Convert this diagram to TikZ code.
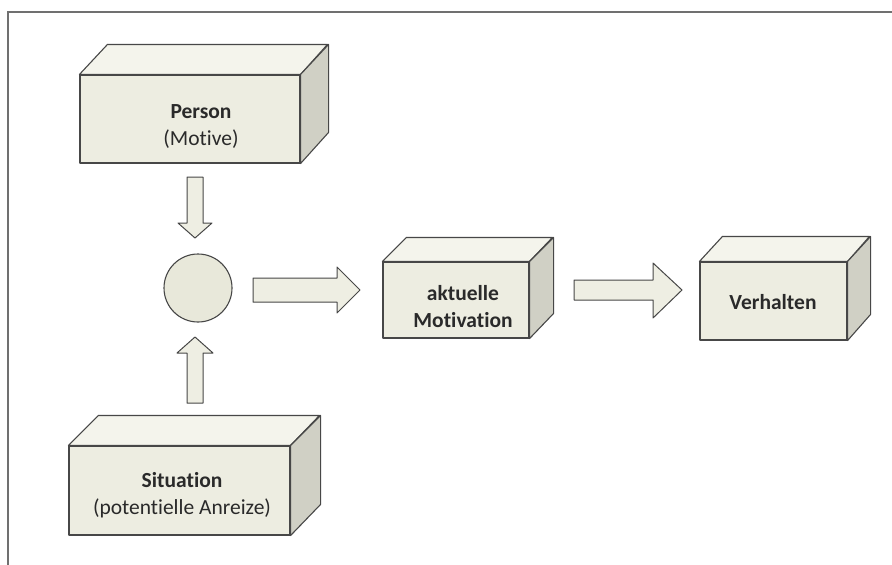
\documentclass[tikz,border=0pt]{standalone}
\usepackage{fontspec}
\setmainfont[Ligatures=NoCommon]{Carlito}
\definecolor{edgec}{HTML}{474747}
\definecolor{frontc}{HTML}{EDEDE1}
\definecolor{topc}{HTML}{F4F4EC}
\definecolor{sidec}{HTML}{D0D0C5}
\definecolor{circc}{HTML}{E8E8DA}
\definecolor{arrc}{HTML}{EEEEE3}
\definecolor{txtc}{HTML}{2A2A2A}
\definecolor{framec}{HTML}{707070}
\newcommand\mycuboid[7]{%
  \node[front, minimum width=#4pt, minimum height=#5pt] (#1) at (#2,#3) {};
  \filldraw[edge, fill=topc] (#1.north west) -- ++(#6,-#7) -- ++(#4,0) -- (#1.north east) -- cycle;
  \filldraw[edge, fill=sidec] (#1.north east) -- ++(#6,-#7) -- ++(0,#5) -- (#1.south east) -- cycle;
}
\begin{document}
\begin{tikzpicture}[x=1pt,y=-1pt,
  edge/.style={draw=edgec, line width=1.1pt, line join=round},
  front/.style={edge, fill=frontc, rectangle, inner sep=0pt},
  blockarrow/.style={edge, fill=arrc, line width=1pt},
  lbl/.style={font=\fontsize{21.5}{27}\selectfont, text=txtc, align=center, inner sep=0pt},
]
\useasboundingbox (0,0) rectangle (892,565);
\fill[white] (0,0) rectangle (892,565);
\draw[framec, line width=1.5pt] (8,565) -- (8,12) -- (892,12);

\mycuboid{person}{190}{119}{220}{88}{28}{30}
\mycuboid{situation}{179.5}{490.5}{221}{89}{30}{30}
\mycuboid{motivation}{456}{300}{146}{76}{24}{24}
\mycuboid{verhalten}{773.5}{301}{147}{78}{23}{25}

\node[lbl] (personlbl) at (201,126.5) {\textbf{Person}\\(Motive)};
\node[lbl] (situationlbl) at (182,495) {\textbf{Situation}\\(potentielle Anreize)};
\node[lbl] (motivationlbl) at (463,306.5) {\textbf{aktuelle}\\\textbf{Motivation}};
\node[lbl] (verhaltenlbl) at (773,302) {\textbf{Verhalten}};

\node[circle, edge, fill=circc, minimum size=68pt, inner sep=0pt] (join) at (198,288) {};

% block arrows
\filldraw[blockarrow] (187,177) -- (203,177) -- (203,223) -- (212,223) -- (195,238) -- (178,223) -- (187,223) -- cycle;
\filldraw[blockarrow] (187,403) -- (203,403) -- (203,353) -- (213,353) -- (195,337) -- (177,353) -- (187,353) -- cycle;
\filldraw[blockarrow] (253,278) -- (337,278) -- (337,267) -- (360,290) -- (337,313) -- (337,302) -- (253,302) -- cycle;
\filldraw[blockarrow] (574,280) -- (653,280) -- (653,263) -- (682,290) -- (653,318) -- (653,300) -- (574,300) -- cycle;
\end{tikzpicture}
\end{document}
